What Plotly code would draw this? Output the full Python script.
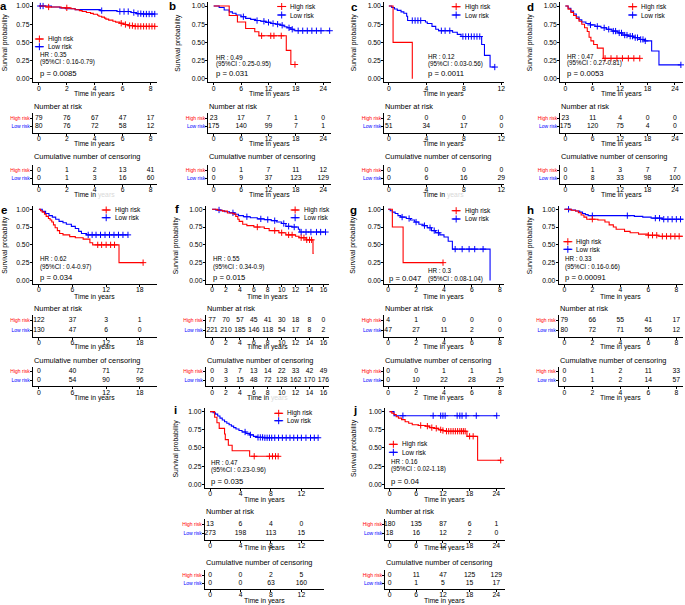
import plotly.graph_objects as go

W, H = 685, 605
FONT = "Liberation Sans, Arial, Helvetica, sans-serif"
RED = "#FF0000"
BLUE = "#0000FF"

# ======================= DATA =======================
# ---- panel a ----
a_high_t = [0, 0.5, 1.6, 2.3, 2.6, 2.9, 3.1, 3.4, 3.7, 3.9, 4.2, 4.3, 4.5, 4.7, 4.8, 5.0, 5.3, 5.5, 5.8, 6.1, 6.4, 6.9, 8.35]
a_high_s = [1.0, 0.987, 0.975, 0.962, 0.949, 0.937, 0.924, 0.911, 0.899, 0.886, 0.873, 0.86, 0.847, 0.834, 0.82, 0.806, 0.79, 0.778, 0.763, 0.746, 0.73, 0.72, 0.72]
a_low_t = [0, 0.9, 1.5, 1.9, 2.6, 4.4, 5.6, 6.6, 7.0, 7.4, 8.33]
a_low_s = [1.0, 0.987, 0.975, 0.962, 0.95, 0.937, 0.924, 0.91, 0.895, 0.89, 0.89]
a_high_cens = [0.7, 2.0, 5.9, 6.2, 6.5, 6.7, 6.9, 7.1, 7.3, 7.5, 7.7, 7.9, 8.1, 8.3]
a_low_cens = [0.1, 0.3, 4.5, 5.8, 6.1, 6.4, 6.8, 7.1, 7.3, 7.5, 7.7, 7.9, 8.1, 8.3]
a_ticks = [0, 2, 4, 6, 8]
a_risk_high = [79, 76, 67, 47, 17]
a_risk_low = [80, 76, 72, 58, 12]
a_cens_high = [0, 1, 2, 13, 41]
a_cens_low = [0, 1, 3, 16, 60]
a_hr = "HR : 0.35"
a_ci = "(95%CI : 0.16-0.79)"
a_p = "p = 0.0085"

# ---- panel b ----
b_high_t = [0, 3.4, 5.2, 7.0, 9.0, 9.9, 15.9, 16.9, 17.8]
b_high_s = [1.0, 0.87, 0.78, 0.69, 0.645, 0.59, 0.39, 0.195, 0.195]
b_low_t = [0, 1.2, 2.3, 3.4, 4.1, 4.9, 6.0, 7.0, 8.1, 9.2, 10.3, 11.4, 12.5, 13.6, 14.7, 15.4, 16.1, 16.9, 17.6, 25.4]
b_low_s = [1.0, 0.98, 0.945, 0.92, 0.90, 0.876, 0.853, 0.83, 0.816, 0.80, 0.79, 0.775, 0.76, 0.75, 0.735, 0.715, 0.70, 0.68, 0.66, 0.66]
b_high_cens = [10.5, 12.5, 13.2, 14.8, 17.8]
b_low_cens = [6.5, 9.5, 11.0, 12.0, 13.0, 14.0, 15.0, 16.5, 17.2, 18.5, 19.5, 20.5, 21.5, 22.5, 23.5, 25.4]
b_ticks = [0, 6, 12, 18, 24]
b_risk_high = [23, 17, 7, 1, 0]
b_risk_low = [175, 140, 99, 7, 1]
b_cens_high = [0, 1, 7, 11, 12]
b_cens_low = [0, 9, 37, 123, 129]
b_hr = "HR : 0.49"
b_ci = "(95%CI : 0.25-0.95)"
b_p = "p = 0.031"

# ---- panel c ----
c_high_t = [0, 0.45, 2.5]
c_high_s = [1.0, 0.5, 0.0]
c_low_t = [0, 0.3, 0.6, 0.9, 1.3, 1.6, 1.9, 2.0, 3.9, 4.1, 4.6, 5.0, 5.3, 6.8, 7.3, 7.7, 9.9, 10.2, 10.8, 11.3]
c_low_s = [1.0, 0.98, 0.96, 0.94, 0.92, 0.90, 0.86, 0.80, 0.78, 0.76, 0.72, 0.68, 0.66, 0.64, 0.61, 0.58, 0.47, 0.32, 0.16, 0.16]
c_high_cens = []
c_low_cens = [2.5, 2.8, 3.1, 3.4, 5.6, 6.0, 6.5, 7.9, 8.2, 8.5, 8.8, 9.1, 9.4, 9.7, 11.3]
c_ticks = [0, 4, 8, 12]
c_risk_high = [2, 0, 0, 0]
c_risk_low = [51, 34, 17, 0]
c_cens_high = [0, 0, 0, 0]
c_cens_low = [0, 6, 16, 29]
c_hr = "HR : 0.12"
c_ci = "(95%CI : 0.03-0.56)"
c_p = "p = 0.0011"

# ---- panel d ----
d_high_t = [0, 0.6, 1.2, 1.8, 2.4, 3.0, 3.6, 4.2, 4.8, 5.2, 5.6, 6.2, 7.0, 8.3, 16.3]
d_high_s = [1.0, 0.957, 0.913, 0.87, 0.83, 0.79, 0.75, 0.70, 0.65, 0.57, 0.52, 0.47, 0.42, 0.28, 0.28]
d_low_t = [0, 0.6, 1.2, 1.8, 2.4, 3.0, 3.6, 4.5, 5.5, 6.5, 7.8, 9.0, 10.2, 11.5, 12.6, 13.8, 15.0, 16.2, 17.3, 18.9, 20.5, 25.3]
d_low_s = [1.0, 0.97, 0.93, 0.89, 0.85, 0.81, 0.78, 0.76, 0.74, 0.72, 0.70, 0.68, 0.655, 0.63, 0.60, 0.585, 0.565, 0.54, 0.52, 0.38, 0.19, 0.19]
d_high_cens = [8.7, 10.0, 11.3, 12.5, 13.8, 15.0, 16.3]
d_low_cens = [5.5, 7.0, 8.5, 9.5, 10.5, 11.0, 11.8, 12.3, 13.0, 13.5, 14.2, 14.7, 15.3, 15.8, 16.5, 17.0, 17.5, 25.3]
d_ticks = [0, 6, 12, 18, 24]
d_risk_high = [23, 11, 4, 0, 0]
d_risk_low = [175, 120, 75, 4, 0]
d_cens_high = [0, 1, 3, 7, 7]
d_cens_low = [0, 8, 33, 98, 100]
d_hr = "HR : 0.47"
d_ci = "(95%CI : 0.27-0.81)"
d_p = "p = 0.0053"

# ---- panel e ----
e_high_t = [0, 0.3, 0.6, 1.0, 1.3, 1.7, 2.0, 2.3, 2.6, 2.9, 3.3, 3.7, 4.3, 5.5, 6.5, 7.9, 9.1, 9.6, 14.3, 18.6]
e_high_s = [1.0, 0.98, 0.96, 0.93, 0.90, 0.87, 0.85, 0.82, 0.78, 0.74, 0.70, 0.66, 0.64, 0.615, 0.60, 0.58, 0.53, 0.50, 0.25, 0.25]
e_low_t = [0, 0.6, 1.2, 1.8, 2.4, 3.0, 3.6, 4.3, 4.9, 5.8, 6.5, 7.1, 7.6, 8.5, 15.9]
e_low_s = [1.0, 0.97, 0.94, 0.91, 0.89, 0.86, 0.83, 0.81, 0.79, 0.76, 0.73, 0.69, 0.66, 0.64, 0.64]
e_high_cens = [10.5, 11.2, 12.0, 12.8, 13.5, 18.6]
e_low_cens = [8.8, 9.5, 10.2, 11.0, 11.8, 12.6, 13.4, 14.2, 15.0, 15.9]
e_ticks = [0, 6, 12, 18]
e_risk_high = [122, 37, 3, 1]
e_risk_low = [130, 47, 6, 0]
e_cens_high = [0, 40, 71, 72]
e_cens_low = [0, 54, 90, 96]
e_hr = "HR : 0.62"
e_ci = "(95%CI : 0.4-0.97)"
e_p = "p = 0.034"

# ---- panel f ----
f_high_t = [0, 0.8, 1.5, 2.2, 3.0, 3.4, 3.7, 3.9, 4.4, 5.0, 6.0, 7.5, 8.2, 9.6, 10.6, 12.0, 12.5, 13.5, 14.5, 14.6]
f_high_s = [1.0, 0.987, 0.974, 0.948, 0.935, 0.90, 0.86, 0.83, 0.79, 0.77, 0.75, 0.73, 0.70, 0.67, 0.64, 0.62, 0.60, 0.57, 0.38, 0.38]
f_low_t = [0, 0.5, 1.2, 1.8, 2.5, 3.2, 3.8, 4.5, 5.5, 6.5, 7.5, 8.5, 9.3, 10.0, 10.6, 11.5, 12.4, 12.6, 16.3]
f_low_s = [1.0, 0.99, 0.98, 0.965, 0.95, 0.93, 0.91, 0.895, 0.88, 0.865, 0.855, 0.84, 0.82, 0.80, 0.76, 0.75, 0.72, 0.68, 0.68]
f_high_cens = [6.5, 9.0, 10.0, 11.0, 11.5, 12.8, 13.2, 13.6, 14.0, 14.3]
f_low_cens = [1.0, 3.0, 5.0, 7.0, 8.0, 9.0, 10.3, 11.0, 11.8, 12.8, 13.5, 14.2, 15.0, 15.6, 16.3]
f_ticks = [0, 2, 4, 6, 8, 10, 12, 14, 16]
f_risk_high = [77, 70, 57, 45, 41, 30, 18, 8, 0]
f_risk_low = [221, 210, 185, 146, 118, 54, 17, 8, 2]
f_cens_high = [0, 3, 7, 13, 14, 22, 33, 42, 49]
f_cens_low = [0, 3, 15, 48, 72, 128, 162, 170, 176]
f_hr = "HR : 0.55"
f_ci = "(95%CI : 0.34-0.9)"
f_p = "p = 0.015"

# ---- panel g ----
g_high_t = [0, 0.3, 1.07, 3.93]
g_high_s = [1.0, 0.75, 0.25, 0.25]
g_low_t = [0, 0.15, 0.3, 0.5, 0.7, 0.9, 1.3, 1.6, 1.9, 2.2, 2.5, 2.8, 3.1, 3.4, 3.7, 4.0, 4.3, 4.6, 7.3]
g_low_s = [1.0, 0.98, 0.96, 0.94, 0.91, 0.89, 0.87, 0.85, 0.82, 0.79, 0.77, 0.74, 0.70, 0.67, 0.64, 0.61, 0.55, 0.44, 0.0]
g_high_cens = [3.93]
g_low_cens = [1.0, 1.5, 2.0, 2.6, 3.0, 3.3, 3.6, 4.8, 5.3, 5.8, 6.2, 6.8]
g_ticks = [0, 2, 4, 6, 8]
g_risk_high = [4, 1, 0, 0, 0]
g_risk_low = [47, 27, 11, 2, 0]
g_cens_high = [0, 0, 1, 1, 1]
g_cens_low = [0, 10, 22, 28, 29]
g_hr = "HR : 0.3"
g_ci = "(95%CI : 0.08-1.04)"
g_p = "p = 0.047"

# ---- panel h ----
h_high_t = [0, 0.5, 0.8, 1.0, 1.2, 1.4, 1.6, 2.4, 2.9, 3.2, 3.5, 3.7, 4.3, 4.7, 5.3, 6.0, 6.7, 8.5]
h_high_s = [1.0, 0.987, 0.975, 0.95, 0.92, 0.89, 0.86, 0.85, 0.82, 0.78, 0.75, 0.72, 0.69, 0.67, 0.65, 0.635, 0.62, 0.62]
h_low_t = [0, 0.4, 0.8, 1.1, 1.3, 1.5, 1.7, 5.0, 5.6, 6.2, 7.0, 8.5]
h_low_s = [1.0, 0.99, 0.975, 0.96, 0.94, 0.925, 0.91, 0.90, 0.89, 0.875, 0.86, 0.86]
h_high_cens = [2.0, 6.0, 6.3, 6.6, 7.0, 7.3, 7.6, 7.9, 8.2, 8.5]
h_low_cens = [0.3, 2.0, 4.5, 6.5, 6.8, 7.1, 7.4, 7.7, 8.0, 8.3]
h_ticks = [0, 2, 4, 6, 8]
h_risk_high = [79, 66, 55, 41, 17]
h_risk_low = [80, 72, 71, 56, 12]
h_cens_high = [0, 1, 2, 11, 33]
h_cens_low = [0, 1, 2, 14, 57]
h_hr = "HR : 0.33"
h_ci = "(95%CI : 0.16-0.66)"
h_p = "p = 0.00091"

# ---- panel i ----
i_high_t = [0, 0.6, 0.9, 1.2, 1.9, 2.0, 2.4, 2.9, 5.2, 8.95]
i_high_s = [1.0, 0.923, 0.846, 0.769, 0.692, 0.615, 0.538, 0.462, 0.385, 0.385]
i_low_t = [0, 0.4, 0.7, 1.0, 1.3, 1.6, 1.9, 2.2, 2.5, 2.8, 3.1, 3.4, 3.8, 4.2, 4.7, 5.2, 5.7, 6.2, 7.0, 14.2]
i_low_s = [1.0, 0.985, 0.965, 0.94, 0.91, 0.885, 0.86, 0.84, 0.82, 0.80, 0.78, 0.76, 0.74, 0.72, 0.70, 0.68, 0.66, 0.645, 0.64, 0.64]
i_high_cens = [5.8, 7.8, 8.2, 8.6, 8.95]
i_low_cens = [4.6, 5.3, 6.3, 6.6, 6.9, 7.2, 7.5, 7.8, 8.1, 8.5, 9.0, 9.5, 10.0, 10.5, 11.0, 11.5, 12.0, 12.6, 13.2, 13.7, 14.2]
i_ticks = [0, 4, 8, 12]
i_risk_high = [13, 6, 4, 0]
i_risk_low = [273, 198, 113, 15]
i_cens_high = [0, 0, 2, 5]
i_cens_low = [0, 0, 63, 160]
i_hr = "HR : 0.47"
i_ci = "(95%CI : 0.23-0.96)"
i_p = "p = 0.035"

# ---- panel j ----
j_high_t = [0, 0.5, 1.0, 1.5, 2.0, 2.7, 3.5, 4.3, 5.1, 6.5, 8.1, 9.0, 10.0, 11.0, 11.8, 12.6, 17.4, 19.8, 25.0]
j_high_s = [1.0, 0.98, 0.96, 0.93, 0.91, 0.89, 0.86, 0.84, 0.82, 0.81, 0.80, 0.78, 0.77, 0.75, 0.74, 0.73, 0.66, 0.33, 0.33]
j_low_t = [0, 1.0, 24.1]
j_low_s = [1.0, 0.944, 0.944]
j_high_cens = [7.0, 8.5, 9.5, 10.5, 11.5, 12.0, 12.8, 13.3, 13.8, 14.3, 14.8, 15.3, 15.8, 16.2, 16.6, 17.0, 18.0, 18.8, 25.0]
j_low_cens = [3.0, 9.8, 11.5, 12.0, 12.5, 15.2, 15.8, 16.3, 17.2, 19.5, 24.1]
j_ticks = [0, 6, 12, 18, 24]
j_risk_high = [180, 135, 87, 6, 1]
j_risk_low = [18, 16, 12, 2, 0]
j_cens_high = [0, 11, 47, 125, 129]
j_cens_low = [0, 1, 5, 15, 17]
j_hr = "HR : 0.16"
j_ci = "(95%CI : 0.02-1.18)"
j_p = "p = 0.04"

DATA = {
    'a': (a_high_t, a_high_s, a_low_t, a_low_s, a_high_cens, a_low_cens, a_ticks, a_risk_high, a_risk_low, a_cens_high, a_cens_low, a_hr, a_ci, a_p),
    'b': (b_high_t, b_high_s, b_low_t, b_low_s, b_high_cens, b_low_cens, b_ticks, b_risk_high, b_risk_low, b_cens_high, b_cens_low, b_hr, b_ci, b_p),
    'c': (c_high_t, c_high_s, c_low_t, c_low_s, c_high_cens, c_low_cens, c_ticks, c_risk_high, c_risk_low, c_cens_high, c_cens_low, c_hr, c_ci, c_p),
    'd': (d_high_t, d_high_s, d_low_t, d_low_s, d_high_cens, d_low_cens, d_ticks, d_risk_high, d_risk_low, d_cens_high, d_cens_low, d_hr, d_ci, d_p),
    'e': (e_high_t, e_high_s, e_low_t, e_low_s, e_high_cens, e_low_cens, e_ticks, e_risk_high, e_risk_low, e_cens_high, e_cens_low, e_hr, e_ci, e_p),
    'f': (f_high_t, f_high_s, f_low_t, f_low_s, f_high_cens, f_low_cens, f_ticks, f_risk_high, f_risk_low, f_cens_high, f_cens_low, f_hr, f_ci, f_p),
    'g': (g_high_t, g_high_s, g_low_t, g_low_s, g_high_cens, g_low_cens, g_ticks, g_risk_high, g_risk_low, g_cens_high, g_cens_low, g_hr, g_ci, g_p),
    'h': (h_high_t, h_high_s, h_low_t, h_low_s, h_high_cens, h_low_cens, h_ticks, h_risk_high, h_risk_low, h_cens_high, h_cens_low, h_hr, h_ci, h_p),
    'i': (i_high_t, i_high_s, i_low_t, i_low_s, i_high_cens, i_low_cens, i_ticks, i_risk_high, i_risk_low, i_cens_high, i_cens_low, i_hr, i_ci, i_p),
    'j': (j_high_t, j_high_s, j_low_t, j_low_s, j_high_cens, j_low_cens, j_ticks, j_risk_high, j_risk_low, j_cens_high, j_cens_low, j_hr, j_ci, j_p),
}

# ======================= LAYOUT GEOMETRY (pixels) =======================
GEO = {
    'a': dict(x0=39.0, ppu=14.0, left=33, right=157, row=1, ytitle=5, letter=(4, 6),
              leg=(35, 39, 46.7), hr=(39.3, 54.3, 62), p=(39.3, 74), faint=True),
    'b': dict(x0=214.3, ppu=4.58, left=209, right=332, row=1, ytitle=179, letter=(173, 6),
              leg=(278, 6.5, 15), hr=(216, 57.3, 64.3), p=(216, 74), faint=False),
    'c': dict(x0=390.0, ppu=9.4, left=385.5, right=505, row=1, ytitle=355, letter=(356, 7),
              leg=(453, 6.7, 15), hr=(428.3, 56.7, 64), p=(428.3, 74), faint=True),
    'd': dict(x0=567.0, ppu=4.58, left=562, right=685, row=1, ytitle=531.5, letter=(532, 7),
              leg=(630, 6.7, 15), hr=(567.3, 56.7, 63.3), p=(567.3, 74), faint=False),
    'e': dict(x0=39.0, ppu=5.62, left=33, right=157, row=2, ytitle=5, letter=(4, 210),
              leg=(102, 210, 217.7), hr=(39.3, 259, 266.7), p=(39.3, 277.7), faint=False),
    'f': dict(x0=212.7, ppu=6.98, left=206.5, right=330, row=2, ytitle=176, letter=(177.5, 209),
              leg=(291.5, 210, 217.7), hr=(212.7, 259, 266.7), p=(212.7, 277.7), faint=True),
    'g': dict(x0=389.3, ppu=14.0, left=385.5, right=505, row=2, ytitle=354, letter=(355, 210),
              leg=(453, 210.7, 219), hr=(428.3, 270, 279), p=(389.3, 278.3), faint=False),
    'h': dict(x0=566.0, ppu=14.04, left=560.5, right=685, row=2, ytitle=531, letter=(532, 210),
              leg=(565, 241.7, 249.3), hr=(566, 259, 266.7), p=(566, 277.7), faint=False),
    'i': dict(x0=210.7, ppu=7.63, left=205.5, right=325, row=3, ytitle=176, letter=(176, 410),
              leg=(275, 413.3, 420.7), hr=(210.7, 462.3, 470), p=(210.7, 481), faint=False),
    'j': dict(x0=390.7, ppu=4.46, left=386.5, right=506, row=3, ytitle=355, letter=(356, 410),
              leg=(390, 444.3, 452.3), hr=(390.7, 461.7, 469.3), p=(390.7, 481), faint=False),
}
ROWS = {
    1: dict(km_top=2.4, km_bot=82.3, km_xt=94.3,
            r_title=106, r_hi=118.3, r_lo=126.7, r_xt=144,
            c_title=156.7, c_hi=170, c_lo=178.3, c_xt=195),
    2: dict(km_top=205.7, km_bot=284.0, km_xt=296.7,
            r_title=308.3, r_hi=320.7, r_lo=330, r_xt=346.7,
            c_title=360, c_hi=371.7, c_lo=380.3, c_xt=397.7),
    3: dict(km_top=408.0, km_bot=487.9, km_xt=500,
            r_title=511, r_hi=524.3, r_lo=533.3, r_xt=548.3,
            c_title=562.3, c_hi=575, c_lo=583.3, c_xt=600.7),
}

layout = dict(width=W, height=H, margin=dict(l=0, r=0, t=0, b=0),
              paper_bgcolor='white', plot_bgcolor='rgba(0,0,0,0)', showlegend=False,
              font=dict(family=FONT, color='black'))
traces = []
annotations = []
counter = [0]

AX = dict(showline=True, linecolor='black', linewidth=0.8, ticks='outside', ticklen=2.2,
          tickwidth=0.8, tickcolor='black', showgrid=False, zeroline=False,
          tickfont=dict(size=6.8, color='black', family=FONT), fixedrange=True)


def add_axes(xdom, ydom, xrange, yrange, xkw, ykw):
    counter[0] += 1
    n = counter[0]
    s = '' if n == 1 else str(n)
    layout['xaxis' + s] = dict(domain=xdom, range=xrange, anchor='y' + s, **xkw)
    layout['yaxis' + s] = dict(domain=ydom, range=yrange, anchor='x' + s, **ykw)
    return 'x' + s, 'y' + s


def ann(x, y, text, size, xanchor='left', yanchor='middle', color='black', angle=0):
    annotations.append(dict(x=x / W, y=1 - y / H, xref='paper', yref='paper', text=text,
                            showarrow=False, xanchor=xanchor, yanchor=yanchor, borderpad=0,
                            textangle=angle, font=dict(size=size, color=color, family=FONT)))


def surv_at(ts, ss, t):
    v = ss[0]
    for tt, sv in zip(ts, ss):
        if tt <= t:
            v = sv
    return v


legend_items = []

for key in 'abcdefghij':
    (ht, hs, lt, ls, hc, lc, ticks, rh, rl, ch, cl, hr, ci, p) = DATA[key]
    g = GEO[key]
    r = ROWS[g['row']]
    xr = [(g['left'] - g['x0']) / g['ppu'], (g['right'] - g['x0']) / g['ppu']]
    xdom = [g['left'] / W, min(1.0, g['right'] / W)]
    XT = dict(AX, tickvals=ticks, ticklabelstandoff=-3)

    # --- KM plot ---
    xa, ya = add_axes(xdom, [1 - r['km_bot'] / H, 1 - r['km_top'] / H], xr, [-0.05, 1.05],
                      XT,
                      dict(AX, tickvals=[0, 0.25, 0.5, 0.75, 1.0], ticklabelstandoff=-1,
                           ticktext=['0.00', '0.25', '0.50', '0.75', '1.00']))
    for (tt, ss, cc, col) in ((lt, ls, lc, BLUE), (ht, hs, hc, RED)):
        traces.append(go.Scatter(x=tt, y=ss, mode='lines', line=dict(color=col, width=1.1, shape='hv'),
                                 xaxis=xa, yaxis=ya, hoverinfo='skip', cliponaxis=False))
        if cc:
            traces.append(go.Scatter(x=cc, y=[surv_at(tt, ss, c) for c in cc], mode='markers',
                                     marker=dict(symbol='cross-thin', size=4.5, line=dict(color=col, width=1)),
                                     xaxis=xa, yaxis=ya, hoverinfo='skip', cliponaxis=False))
    xc = (g['left'] + g['right']) / 2
    ann(xc, r['km_xt'], 'Time in years', 6.8, xanchor='center')
    ann(g['ytitle'], (r['km_top'] + r['km_bot']) / 2, 'Survival probability', 6.8,
        xanchor='center', angle=-90)
    ann(g['letter'][0], g['letter'][1], '<b>%s</b>' % key, 11.5, xanchor='center')
    ann(g['hr'][0], g['hr'][1], hr, 6.3)
    ann(g['hr'][0], g['hr'][2], ci, 6.3)
    ann(g['p'][0], g['p'][1], p, 7.7)
    lx, ly1, ly2 = g['leg']
    legend_items.append((lx, ly1, RED))
    legend_items.append((lx, ly2, BLUE))
    ann(lx + 12, ly1, 'High risk', 6.5)
    ann(lx + 12, ly2, 'Low risk', 6.5)

    # --- tables ---
    ytick = dict(AX, tickvals=[1, 2], tickfont=dict(size=5, family=FONT), ticklabelstandoff=-1,
                 ticktext=['<span style="color:%s">Low risk</span>' % BLUE,
                           '<span style="color:%s">High risk</span>' % RED])
    for (title, yhi, ylo, yxt, vh, vl, tag) in (
            ('Number at risk', r['r_hi'], r['r_lo'], r['r_xt'], rh, rl, 'r'),
            ('Cumulative number of censoring', r['c_hi'], r['c_lo'], r['c_xt'], ch, cl, 'c')):
        d = ylo - yhi
        top = yhi - 0.6 * d
        bot = ylo + 0.7 * d
        xa2, ya2 = add_axes(xdom, [1 - bot / H, 1 - top / H], xr, [0.3, 2.6], XT, ytick)
        traces.append(go.Scatter(x=ticks, y=[2] * len(ticks), text=[str(v) for v in vh], mode='text',
                                 textfont=dict(size=6.8, color='black', family=FONT),
                                 xaxis=xa2, yaxis=ya2, hoverinfo='skip', cliponaxis=False))
        traces.append(go.Scatter(x=ticks, y=[1] * len(ticks), text=[str(v) for v in vl], mode='text',
                                 textfont=dict(size=6.8, color='black', family=FONT),
                                 xaxis=xa2, yaxis=ya2, hoverinfo='skip', cliponaxis=False))
        ann(g['left'], (r['r_title'] if tag == 'r' else r['c_title']), title, 7.4)
        if tag == 'c' and g['faint']:
            ann(xc, yxt, 'Time in <span style="color:#d9d9d9">years</span>', 6.8, xanchor='center')
        else:
            ann(xc, yxt, 'Time in years', 6.8, xanchor='center')

# overlay pixel axis for legend keys
xo, yo = add_axes([0, 1], [0, 1], [0, W], [H, 0], dict(visible=False, fixedrange=True),
                  dict(visible=False, fixedrange=True))
for (lx, ly, col) in legend_items:
    traces.append(go.Scatter(x=[lx, lx + 9], y=[ly, ly], mode='lines', line=dict(color=col, width=1.1),
                             xaxis=xo, yaxis=yo, hoverinfo='skip'))
    traces.append(go.Scatter(x=[lx + 4.5], y=[ly], mode='markers',
                             marker=dict(symbol='cross-thin', size=5, line=dict(color=col, width=1)),
                             xaxis=xo, yaxis=yo, hoverinfo='skip'))

layout['annotations'] = annotations
fig = go.Figure(data=traces, layout=layout)
fig.write_html("out.html", config={'displayModeBar': False},
               post_script="document.body.style.margin='0px';document.body.style.padding='0px';")
